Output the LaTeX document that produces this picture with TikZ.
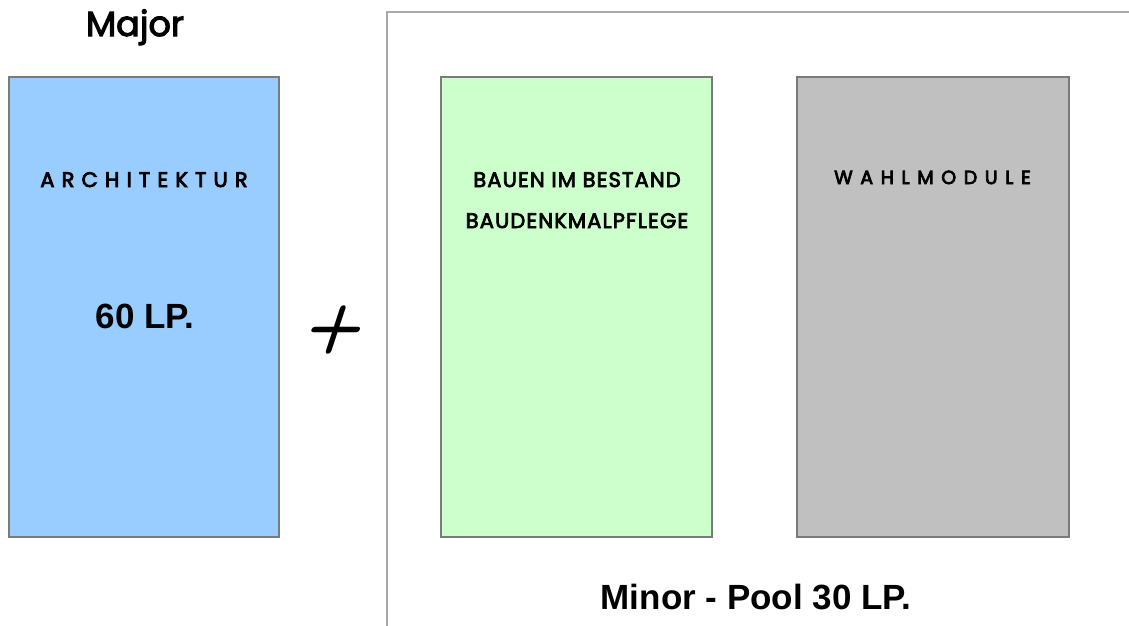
\documentclass[tikz,border=0pt]{standalone}
\usepackage{fontspec}
\newfontfamily\geom[FakeBold=3]{Poppins}
\newfontfamily\geomb[FakeBold=3.5,LetterSpace=5.5]{Poppins}
\newfontfamily\geols[LetterSpace=34,FakeBold=4]{Poppins}
\newfontfamily\geolsb[LetterSpace=40,FakeBold=4]{Poppins}
\newfontfamily\arl{Liberation Sans}
\definecolor{majorblue}{HTML}{99CCFF}
\definecolor{minorgreen}{HTML}{CCFFCC}
\definecolor{wahlgray}{HTML}{C0C0C0}
\definecolor{edgegray}{HTML}{7A7A7A}
\definecolor{framegray}{HTML}{A8A8A8}
\begin{document}
\begin{tikzpicture}[x=1pt,y=-1pt,
  modbox/.style={draw=edgegray,line width=1.2pt,inner sep=0pt},
  lbl/.style={inner sep=0pt,anchor=base,text=black}]
\useasboundingbox (0,0) rectangle (1129,625);
% outer frame of minor pool (open right and bottom)
\coordinate (fb) at (387,626);
\coordinate (ft) at (387,12);
\coordinate (fr) at (1130,12);
\draw[framegray,line width=1.8pt] (fb) -- (ft) -- (fr);
% boxes
\draw[modbox,fill=majorblue] (9,77) rectangle (279,537);
\draw[modbox,fill=minorgreen] (441,77) rectangle (712,537);
\draw[modbox,fill=wahlgray] (797,77) rectangle (1069,537);
% labels
\node[lbl] (major) at (135,36) {\geom\fontsize{35}{40}\selectfont Major};
\node[lbl] (arch) at (144,187) {\geols\fontsize{21}{24}\selectfont ARCHITEKTUR};
\node[lbl] (lp60) at (145,328) {\arl\bfseries\fontsize{35}{40}\selectfont 60 LP.};
\node[lbl,xslant=0.33] (plus) at (331,346) {\sffamily\bfseries\addfontfeatures{FakeBold=3}\fontsize{66}{70}\selectfont +};
\node[lbl] (bauen1) at (577,187) {\geomb\fontsize{21}{24}\selectfont BAUEN IM BESTAND};
\node[lbl] (bauen2) at (577,228) {\geomb\fontsize{21}{24}\selectfont BAUDENKMALPFLEGE};
\node[lbl] (wahl) at (932.5,184) {\geolsb\fontsize{19}{22}\selectfont WAHLMODULE};
\node[lbl] (minor) at (756,609) {\arl\bfseries\fontsize{35}{40}\selectfont Minor - Pool 30 LP.};
\end{tikzpicture}
\end{document}
